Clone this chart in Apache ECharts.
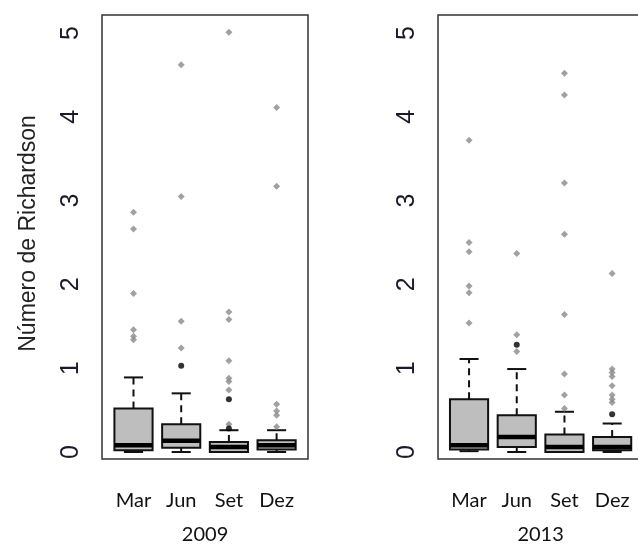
<!DOCTYPE html>
<html>
<head>
<meta charset="utf-8">
<script src="https://cdn.jsdelivr.net/npm/echarts@6/dist/echarts.min.js"></script>
<style>
  html, body { margin: 0; padding: 0; background: #fff; }
  #chart { width: 638px; height: 545px; }
</style>
</head>
<body>
<div id="chart"></div>
<script>
const months = ['Mar', 'Jun', 'Set', 'Dez'];
const years = ['2009', '2013'];

// [min, Q1, median, Q3, max] per month
const box2009 = [
  [0.00, 0.02, 0.08, 0.52, 0.89],
  [0.00, 0.05, 0.135, 0.33, 0.70],
  [0.00, 0.00, 0.06, 0.12, 0.26],
  [0.00, 0.03, 0.08, 0.14, 0.26]
];
const box2013 = [
  [0.01, 0.03, 0.08, 0.63, 1.11],
  [0.00, 0.06, 0.18, 0.44, 0.99],
  [0.00, 0.00, 0.06, 0.21, 0.48],
  [0.00, 0.02, 0.06, 0.18, 0.34]
];

// outliers per month (gray), and the darker overlapping ones
const out2009 = [
  [1.34, 1.38, 1.46, 1.89, 2.66, 2.86],
  [1.24, 1.56, 3.05, 4.62],
  [0.33, 0.74, 0.84, 0.88, 1.09, 1.58, 1.67, 5.01],
  [0.30, 0.44, 0.49, 0.57, 3.17, 4.11]
];
const dark2009 = [[], [1.03], [0.28, 0.63], []];
const out2013 = [
  [1.54, 1.90, 1.98, 2.39, 2.50, 3.72],
  [1.20, 1.40, 2.37],
  [0.52, 0.68, 0.93, 1.64, 2.60, 3.21, 4.26, 4.52],
  [0.59, 0.63, 0.68, 0.79, 0.90, 0.95, 0.99, 2.13]
];
const dark2013 = [[], [1.28], [], [0.45]];

const chart = echarts.init(document.getElementById('chart'));

function renderBox(params, api) {
  const x = api.value(0);
  const lo = api.coord([x, api.value(1)]);
  const q1 = api.coord([x, api.value(2)]);
  const med = api.coord([x, api.value(3)]);
  const q3 = api.coord([x, api.value(4)]);
  const hi = api.coord([x, api.value(5)]);
  const band = api.size([1, 0])[0];
  const half = band * 0.4;
  const cap = band * 0.2;
  const cx = lo[0];
  return {
    type: 'group',
    children: [
      { type: 'line', shape: { x1: cx, y1: q3[1], x2: cx, y2: hi[1] },
        style: { stroke: '#111', lineWidth: 2, lineDash: [7, 5] } },
      { type: 'line', shape: { x1: cx, y1: q1[1], x2: cx, y2: lo[1] },
        style: { stroke: '#111', lineWidth: 2, lineDash: [7, 5] } },
      { type: 'line', shape: { x1: cx - cap, y1: hi[1], x2: cx + cap, y2: hi[1] },
        style: { stroke: '#111', lineWidth: 2 } },
      { type: 'line', shape: { x1: cx - cap, y1: lo[1], x2: cx + cap, y2: lo[1] },
        style: { stroke: '#111', lineWidth: 2 } },
      { type: 'rect', shape: { x: cx - half, y: q3[1], width: half * 2, height: q1[1] - q3[1] },
        style: { fill: '#bebebe', stroke: '#111', lineWidth: 2 } },
      { type: 'line', shape: { x1: cx - half, y1: med[1], x2: cx + half, y2: med[1] },
        style: { stroke: '#000', lineWidth: 4.5 } }
    ]
  };
}

const toBoxData = (boxes) => boxes.map((b, i) => [i].concat(b));
const toPoints = (lists) => {
  const pts = [];
  lists.forEach((vals, i) => vals.forEach(v => pts.push([i, v])));
  return pts;
};

const grids = [
  { left: 109.65, top: 15, width: 190.8, height: 437, outerBoundsMode: 'none' },
  { left: 445.2, top: 15, width: 190.8, height: 437, outerBoundsMode: 'none' }
];

const xAxes = years.map((yr, i) => ({
  type: 'category',
  gridIndex: i,
  data: months,
  offset: 7,
  name: yr,
  nameLocation: 'middle',
  nameGap: 66,
  nameTextStyle: { fontFamily: 'Lato', fontSize: 20, color: '#111' },
  axisLine: { show: false },
  axisTick: { alignWithLabel: true, length: 8, lineStyle: { color: '#333', width: 1.5 } },
  axisLabel: { fontFamily: 'Lato', fontSize: 20, color: '#111', margin: 32 }
}));

const yAxes = years.map((yr, i) => ({
  type: 'value',
  gridIndex: i,
  min: 0,
  max: 5.215,
  interval: 1,
  offset: 7.65,
  name: i === 0 ? 'Número de Richardson' : '',
  nameLocation: 'middle',
  nameGap: 62,
  nameRotate: 90,
  nameTextStyle: { fontFamily: 'Liberation Sans', fontSize: 23, color: '#222' },
  axisLine: { show: false },
  splitLine: { show: false },
  axisTick: { length: 10, lineStyle: { color: '#333', width: 1.5 } },
  axisLabel: {
    rotate: 90, fontFamily: 'Liberation Sans', fontSize: 25, color: '#1a1a2a', margin: 18,
    showMaxLabel: false
  }
}));

const series = [];
[[box2009, out2009, dark2009], [box2013, out2013, dark2013]].forEach(([boxes, outs, darks], i) => {
  series.push({
    type: 'custom',
    xAxisIndex: i, yAxisIndex: i,
    renderItem: renderBox,
    encode: { x: 0, y: [1, 2, 3, 4, 5] },
    data: toBoxData(boxes),
    silent: true
  });
  series.push({
    type: 'scatter',
    xAxisIndex: i, yAxisIndex: i,
    symbol: 'diamond',
    symbolSize: 7,
    itemStyle: { color: '#8a8a8a' },
    data: toPoints(outs),
    silent: true
  });
  series.push({
    type: 'scatter',
    xAxisIndex: i, yAxisIndex: i,
    symbol: 'circle',
    symbolSize: 6,
    itemStyle: { color: '#000' },
    data: toPoints(darks),
    silent: true
  });
});

chart.setOption({
  animation: false,
  backgroundColor: '#fff',
  grid: grids,
  xAxis: xAxes,
  yAxis: yAxes,
  series: series,
  graphic: [
    { type: 'rect', shape: { x: 102, y: 15, width: 206, height: 444 },
      style: { fill: null, stroke: '#333', lineWidth: 1.5 } },
    { type: 'rect', shape: { x: 438, y: 15, width: 206, height: 444 },
      style: { fill: null, stroke: '#333', lineWidth: 1.5 } }
  ]
});
</script>
</body>
</html>
